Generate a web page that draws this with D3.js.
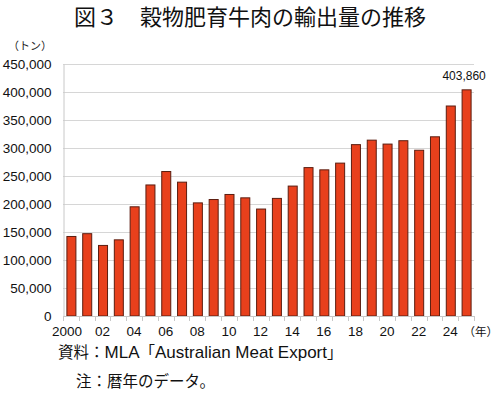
<!DOCTYPE html>
<html><head><meta charset="utf-8">
<script src="https://cdn.jsdelivr.net/npm/d3@7"></script>
<style>
html,body{margin:0;padding:0;background:#fff;}
svg{display:block;font-family:"Liberation Sans","Noto Sans CJK JP",sans-serif;}
.cjk{font-family:"Noto Sans CJK JP",sans-serif;}
</style></head><body>
<svg id="c" width="500" height="396"></svg>
<script>
const years = d3.range(2000, 2026);
const values = [142000,147000,126000,136000,195000,234000,258000,239000,202000,208000,217000,211000,191000,210000,232000,265000,261000,273000,306000,314000,307000,313000,296000,320000,375000,403860];
const yTicks = [0,50000,100000,150000,200000,250000,300000,350000,400000,450000];
const xLabels = {2000:"2000",2002:"02",2004:"04",2006:"06",2008:"08",2010:"10",2012:"12",2014:"14",2016:"16",2018:"18",2020:"20",2022:"22",2024:"24"};
const title = "図３　穀物肥育牛肉の輸出量の推移";
const annot = "403,860";
const sourceParts = [["資料：", true], ["MLA", false], ["「", true], ["Australian Meat Export", false], ["」", true]];
const note = "注：暦年のデータ。";

const svg = d3.select("#c");
const L = 63, R = 474, T = 64, B = 316;
const x = d3.scaleBand().domain(years).range([L, R]).paddingInner(0.43).paddingOuter(0.215);
const y = d3.scaleLinear().domain([0, 450000]).range([B, T]);

svg.append("text").attr("class","cjk").attr("x", 250).attr("y", 25).attr("text-anchor","middle")
  .attr("font-size", 22).attr("font-weight", 400).attr("fill","#111").text(title);
svg.append("text").attr("class","cjk").attr("x", 8).attr("y", 50).attr("font-size", 11).attr("fill","#222").text("（トン）");

// gridlines
svg.append("g").selectAll("line").data(yTicks.filter(d=>d>0)).join("line")
  .attr("x1", L).attr("x2", R).attr("y1", d=>Math.round(y(d))+0.5).attr("y2", d=>Math.round(y(d))+0.5)
  .attr("stroke", "#d6d6d6").attr("stroke-width", 1);

// y axis
const ya = svg.append("g").attr("transform", `translate(${L+0.5},0)`)
  .call(d3.axisLeft(y).tickValues(yTicks).tickSize(0).tickPadding(12).tickFormat(d3.format(",")));
ya.select(".domain").attr("stroke", "#c8c8c8");
ya.selectAll("text").attr("font-size", 13.5).attr("fill", "#111").attr("font-family", "Liberation Sans, sans-serif");

// bars
svg.append("g").selectAll("rect").data(values).join("rect")
  .attr("x", (d,i)=>x(years[i])+0.5).attr("width", x.bandwidth())
  .attr("y", d=>y(d)).attr("height", d=>B - y(d))
  .attr("fill", "#e8401c").attr("stroke", "#5b1d10").attr("stroke-width", 1);

// x axis line and tick marks at band boundaries
svg.append("line").attr("x1", L).attr("x2", R).attr("y1", B+0.5).attr("y2", B+0.5).attr("stroke", "#c8c8c8");
const bounds = years.map((yr,i)=> L + i*(R-L)/years.length).concat([R]);
svg.append("g").selectAll("line").data(bounds).join("line")
  .attr("x1", d=>Math.round(d)+0.5).attr("x2", d=>Math.round(d)+0.5).attr("y1", B).attr("y2", B+5)
  .attr("stroke", "#c8c8c8");

svg.append("g").selectAll("text").data(years.filter(yr=>xLabels[yr])).join("text")
  .attr("x", yr=> x(yr) + x.bandwidth()/2 + (yr===2000 ? -4 : 0))
  .attr("y", 336).attr("text-anchor","middle").attr("font-size", 13.5).attr("fill","#111")
  .text(yr=>xLabels[yr]);
svg.append("text").attr("class","cjk").attr("x", 498).attr("y", 336).attr("text-anchor","end").attr("font-size", 11.5).attr("fill","#111").text("（年）");

// annotation
svg.append("text").attr("x", x(2025)+x.bandwidth()/2 - 2).attr("y", 80).attr("text-anchor","middle")
  .attr("font-size", 12).attr("fill","#111").text(annot);

// footer
const src = svg.append("text").attr("x", 58).attr("y", 358).attr("fill","#111");
src.selectAll("tspan").data(sourceParts).join("tspan")
  .attr("font-family", d=> d[1] ? "Noto Sans CJK JP, sans-serif" : "Liberation Sans, sans-serif")
  .attr("font-size", d=> d[1] ? 15.5 : 17)
  .text(d=>d[0]);
svg.append("text").attr("class","cjk").attr("x", 76).attr("y", 387).attr("font-size", 15.5).attr("fill","#111")
  .text(note);
</script></body></html>
